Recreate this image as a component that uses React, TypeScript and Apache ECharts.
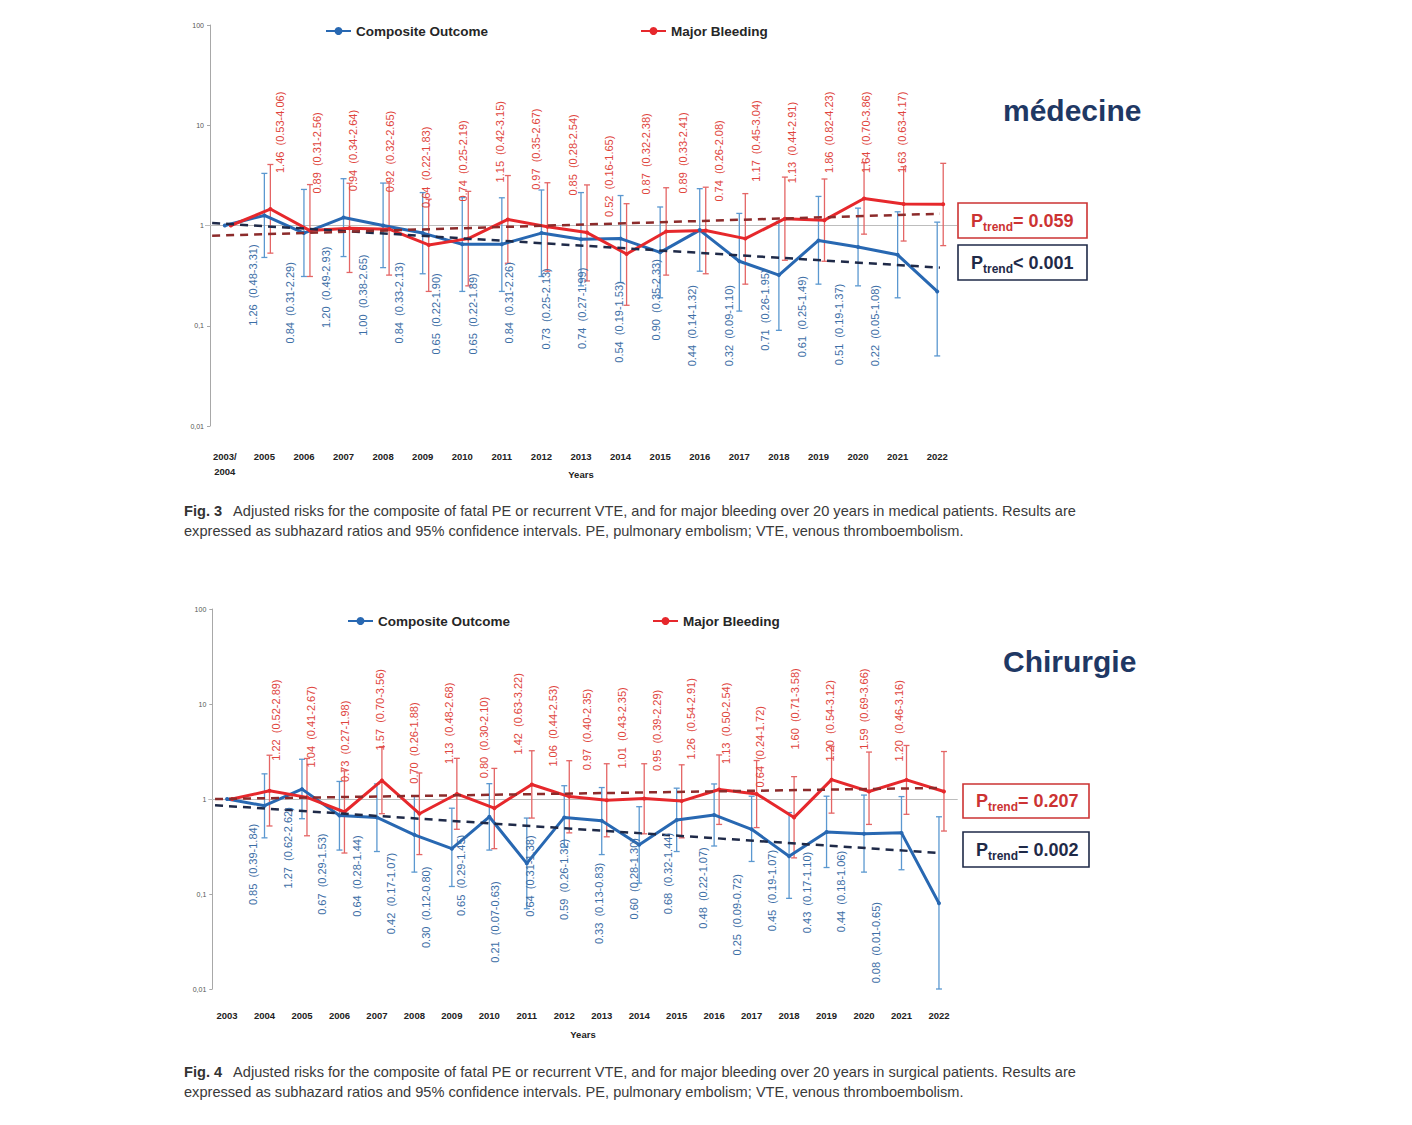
import React, { useEffect, useRef } from "react";
import * as echarts from "echarts";

// ---------- DATA ----------
const medYears = ["2003/\n2004", "2005", "2006", "2007", "2008", "2009", "2010", "2011", "2012", "2013", "2014", "2015", "2016", "2017", "2018", "2019", "2020", "2021", "2022"];
const surgYears = ["2003", "2004", "2005", "2006", "2007", "2008", "2009", "2010", "2011", "2012", "2013", "2014", "2015", "2016", "2017", "2018", "2019", "2020", "2021", "2022"];

const medComposite = [1.0, 1.26, 0.84, 1.2, 1.0, 0.84, 0.65, 0.65, 0.84, 0.73, 0.74, 0.54, 0.9, 0.44, 0.32, 0.71, 0.61, 0.51, 0.22];
const medCompositeLow = [null, 0.48, 0.31, 0.49, 0.38, 0.33, 0.22, 0.22, 0.31, 0.25, 0.27, 0.19, 0.35, 0.14, 0.09, 0.26, 0.25, 0.19, 0.05];
const medCompositeHigh = [null, 3.31, 2.29, 2.93, 2.65, 2.13, 1.9, 1.89, 2.26, 2.13, 1.99, 1.53, 2.33, 1.32, 1.1, 1.95, 1.49, 1.37, 1.08];
const medBleeding = [1.0, 1.46, 0.89, 0.94, 0.92, 0.64, 0.74, 1.15, 0.97, 0.85, 0.52, 0.87, 0.89, 0.74, 1.17, 1.13, 1.86, 1.64, 1.63];
const medBleedingLow = [null, 0.53, 0.31, 0.34, 0.32, 0.22, 0.25, 0.42, 0.35, 0.28, 0.16, 0.32, 0.33, 0.26, 0.45, 0.44, 0.82, 0.7, 0.63];
const medBleedingHigh = [null, 4.06, 2.56, 2.64, 2.65, 1.83, 2.19, 3.15, 2.67, 2.54, 1.65, 2.38, 2.41, 2.08, 3.04, 2.91, 4.23, 3.86, 4.17];

const surgComposite = [1.0, 0.85, 1.27, 0.67, 0.64, 0.42, 0.3, 0.65, 0.21, 0.64, 0.59, 0.33, 0.6, 0.68, 0.48, 0.25, 0.45, 0.43, 0.44, 0.08];
const surgCompositeLow = [null, 0.39, 0.62, 0.29, 0.28, 0.17, 0.12, 0.29, 0.07, 0.31, 0.26, 0.13, 0.28, 0.32, 0.22, 0.09, 0.19, 0.17, 0.18, 0.01];
const surgCompositeHigh = [null, 1.84, 2.62, 1.53, 1.44, 1.07, 0.8, 1.45, 0.63, 1.38, 1.32, 0.83, 1.3, 1.44, 1.07, 0.72, 1.07, 1.1, 1.06, 0.65];
const surgBleeding = [1.0, 1.22, 1.04, 0.73, 1.57, 0.7, 1.13, 0.8, 1.42, 1.06, 0.97, 1.01, 0.95, 1.26, 1.13, 0.64, 1.6, 1.2, 1.59, 1.2];
const surgBleedingLow = [null, 0.52, 0.41, 0.27, 0.7, 0.26, 0.48, 0.3, 0.63, 0.44, 0.4, 0.43, 0.39, 0.54, 0.5, 0.24, 0.71, 0.54, 0.69, 0.46];
const surgBleedingHigh = [null, 2.89, 2.67, 1.98, 3.56, 1.88, 2.68, 2.1, 3.22, 2.53, 2.35, 2.35, 2.29, 2.91, 2.54, 1.72, 3.58, 3.12, 3.66, 3.16];

// trend lines: [category position, value]
const medTrendComposite = [[-0.32, 1.06], [18.07, 0.38]];
const medTrendBleeding = [[-0.32, 0.79], [18.07, 1.31]];
const surgTrendComposite = [[-0.32, 0.86], [19.03, 0.27]];
const surgTrendBleeding = [[-0.32, 1.0], [19.1, 1.31]];

const medPTrend = ["= 0.059", "< 0.001"];
const surgPTrend = ["= 0.207", "= 0.002"];

const seriesNames = ["Composite Outcome", "Major Bleeding"];

// ---------- STYLE ----------
const FONT = '"Liberation Sans", Arial, sans-serif';
const BLUE = "#2868b2";
const BLUE_BAR = "#5b98d0";
const BLUE_TEXT = "#3c6ea6";
const RED = "#e6282c";
const RED_BAR = "#e46565";
const RED_TEXT = "#e0453d";
const NAVY = "#1f2a48";
const DARK_RED = "#8c2b2b";
const TITLE_NAVY = "#1f3864";

const LAYOUT = [
  {
    gridLeft: 205, gridTop: 25, gridWidth: 752, gridHeight: 401, band: 39.58, redShift: 6,
    labelStart: 216.4, labelStep: 36.6, redLabelDx: 27,
    blueDy: 29, blueCap: 285, redDy: 37, redCap: 173,
    axisOffset: -5, labelMargin: 23, nameGap: 43,
  },
  {
    gridLeft: 208.3, gridTop: 609, gridWidth: 749.4, gridHeight: 380, band: 37.47, redShift: 5,
    labelStart: 218.4, labelStep: 34.6, redLabelDx: 23,
    blueDy: 18, blueCap: 902, redDy: 30, redCap: 0,
    axisOffset: -4, labelMargin: 19, nameGap: 40,
  },
];

const fmt = (v: number) => v.toFixed(2);

function errorBar(color: string) {
  return (params: any, api: any) => {
    const x = api.value(0);
    const lo = api.coord([x, api.value(1)]);
    const hi = api.coord([x, api.value(2)]);
    const cx = lo[0];
    const cap = 3;
    const st = { stroke: color, lineWidth: 1.3 };
    return {
      type: "group",
      children: [
        { type: "line", shape: { x1: cx, y1: lo[1], x2: cx, y2: hi[1] }, style: st },
        { type: "line", shape: { x1: cx - cap, y1: lo[1], x2: cx + cap, y2: lo[1] }, style: st },
        { type: "line", shape: { x1: cx - cap, y1: hi[1], x2: cx + cap, y2: hi[1] }, style: st },
      ],
    };
  };
}

function labelRenderer(color: string, below: boolean, dx: number, dy: number, cap: number) {
  return (params: any, api: any) => {
    const p = api.coord([api.value(0), api.value(1)]);
    const text = `${fmt(api.value(1))}  (${fmt(api.value(2))}-${fmt(api.value(3))})`;
    const y = below ? Math.min(p[1] + dy, cap) : Math.max(p[1] - dy, cap);
    return {
      type: "text",
      x: p[0] + dx,
      y,
      rotation: Math.PI / 2,
      style: {
        text,
        fill: color,
        font: `11px ${FONT}`,
        align: below ? "right" : "left",
        verticalAlign: "middle",
      },
    };
  };
}

function buildPanel(
  pi: number,
  years: string[],
  comp: number[], compLo: (number | null)[], compHi: (number | null)[],
  bleed: number[], bleedLo: (number | null)[], bleedHi: (number | null)[],
  trendC: number[][], trendB: number[][]
) {
  const L = LAYOUT[pi];
  const n = years.length;
  const xb = pi * 4;
  const shift = L.redShift / L.band;
  const labelMin = (L.gridLeft - L.labelStart) / L.labelStep;
  const labelMax = labelMin + L.gridWidth / L.labelStep;

  const grid = { left: L.gridLeft, top: L.gridTop, width: L.gridWidth, height: L.gridHeight };
  const xAxes = [
    {
      type: "category", gridIndex: pi, data: years, boundaryGap: true,
      axisLine: { show: false }, axisTick: { show: false },
      axisLabel: { margin: L.labelMargin, fontSize: 9.5, fontWeight: "bold", color: "#222", lineHeight: 15, fontFamily: FONT },
      name: "Years", nameLocation: "middle", nameGap: L.nameGap, nameMoveOverlap: false,
      nameTextStyle: { fontSize: 9.5, fontWeight: "bold", color: "#222", fontFamily: FONT },
    },
    { type: "value", gridIndex: pi, show: false, min: -0.5, max: n - 0.5 },
    { type: "value", gridIndex: pi, show: false, min: -0.5 - shift, max: n - 0.5 - shift },
    { type: "value", gridIndex: pi, show: false, min: labelMin, max: labelMax },
  ];
  const yAxis = {
    type: "log", logBase: 10, gridIndex: pi, min: 0.01, max: 100, offset: L.axisOffset,
    axisLine: { show: true, onZero: false, lineStyle: { color: "#a8a8a8", width: 1 } },
    axisTick: { show: true, length: 3, lineStyle: { color: "#a8a8a8" } },
    splitLine: { show: false },
    axisLabel: {
      fontSize: 7, color: "#555", fontFamily: FONT, margin: 6,
      formatter: (v: number) => String(Number(v.toPrecision(3))).replace(".", ","),
    },
  };

  const barData = (lo: (number | null)[], hi: (number | null)[]) =>
    lo.map((l, i) => (l == null ? null : [i, l, hi[i]])).filter((d) => d) as number[][];
  const labelData = (v: number[], lo: (number | null)[], hi: (number | null)[]) =>
    v.map((val, i) => (lo[i] == null ? null : [i, val, lo[i], hi[i]])).filter((d) => d) as number[][];

  const series: any[] = [
    {
      type: "custom", name: "ciC" + pi, xAxisIndex: xb + 1, yAxisIndex: pi, z: 2,
      renderItem: errorBar(BLUE_BAR), data: barData(compLo, compHi), encode: { x: 0, y: [1, 2] }, silent: true,
    },
    {
      type: "custom", name: "ciB" + pi, xAxisIndex: xb + 2, yAxisIndex: pi, z: 2,
      renderItem: errorBar(RED_BAR), data: barData(bleedLo, bleedHi), encode: { x: 0, y: [1, 2] }, silent: true,
    },
    {
      type: "line", name: seriesNames[0], xAxisIndex: xb + 1, yAxisIndex: pi, z: 3,
      data: comp.map((v, i) => [i, v]),
      symbol: "circle", symbolSize: 4, showSymbol: true,
      itemStyle: { color: BLUE }, lineStyle: { color: BLUE, width: 3 },
      markLine: {
        silent: true, symbol: "none", label: { show: false }, z: 1,
        lineStyle: { color: "#bdbdbd", width: 1, type: "solid" },
        data: [{ yAxis: 1 }],
      },
    },
    {
      type: "line", name: seriesNames[1], xAxisIndex: xb + 2, yAxisIndex: pi, z: 3,
      data: bleed.map((v, i) => [i, v]),
      symbol: "circle", symbolSize: 4, showSymbol: true,
      itemStyle: { color: RED }, lineStyle: { color: RED, width: 3 },
    },
    {
      type: "line", name: "trendC" + pi, xAxisIndex: xb + 1, yAxisIndex: pi, z: 4,
      data: trendC, symbol: "none", lineStyle: { color: NAVY, width: 2.5, type: [8, 6] }, silent: true,
    },
    {
      type: "line", name: "trendB" + pi, xAxisIndex: xb + 1, yAxisIndex: pi, z: 4,
      data: trendB, symbol: "none", lineStyle: { color: DARK_RED, width: 2.5, type: [8, 6] }, silent: true,
    },
    {
      type: "custom", name: "lblC" + pi, xAxisIndex: xb + 3, yAxisIndex: pi, z: 5, silent: true,
      renderItem: labelRenderer(BLUE_TEXT, true, 0, L.blueDy, L.blueCap),
      data: labelData(comp, compLo, compHi), encode: { x: 0, y: 1 },
    },
    {
      type: "custom", name: "lblB" + pi, xAxisIndex: xb + 3, yAxisIndex: pi, z: 5, silent: true,
      renderItem: labelRenderer(RED_TEXT, false, L.redLabelDx, L.redDy, L.redCap),
      data: labelData(bleed, bleedLo, bleedHi), encode: { x: 0, y: 1 },
    },
  ];
  return { grid, xAxes, yAxis, series };
}

function pBox(x: number, y: number, w: number, h: number, color: string, value: string) {
  return [
    { type: "rect", shape: { x, y, width: w, height: h }, style: { fill: "#fff", stroke: color, lineWidth: 1.6 }, z: 10 },
    {
      type: "text", x: x + 13, y: y + h / 2, z: 11,
      style: {
        text: `{p|P}{s|trend}{p|${value}}`,
        verticalAlign: "middle", align: "left",
        rich: {
          p: { fontSize: 18, fontWeight: "bold", fontFamily: FONT, fill: color, color, lineHeight: 24, verticalAlign: "middle" },
          s: { fontSize: 12, fontWeight: "bold", fontFamily: FONT, fill: color, color, verticalAlign: "bottom" },
        },
      },
    },
  ];
}

function caption(y: number, fig: string, line1: string, line2: string) {
  return [
    {
      type: "text", x: 184, y, z: 11,
      style: {
        text: `{b|${fig}}{n|${line1}}`, verticalAlign: "middle", align: "left",
        rich: {
          b: { fontSize: 14.6, fontWeight: "bold", fontFamily: FONT, fill: "#333", color: "#333", padding: [0, 11, 0, 0] },
          n: { fontSize: 14.6, fontFamily: FONT, fill: "#3a3a3a", color: "#3a3a3a" },
        },
      },
    },
    {
      type: "text", x: 184, y: y + 20, z: 11,
      style: { text: line2, verticalAlign: "middle", align: "left", font: `14.6px ${FONT}`, fill: "#3a3a3a" },
    },
  ];
}

export default function App() {
  const ref = useRef<HTMLDivElement>(null);
  useEffect(() => {
    if (!ref.current) return;
    const chart = echarts.init(ref.current, undefined, { renderer: "svg" });
    const top = buildPanel(0, medYears, medComposite, medCompositeLow, medCompositeHigh, medBleeding, medBleedingLow, medBleedingHigh, medTrendComposite, medTrendBleeding);
    const bot = buildPanel(1, surgYears, surgComposite, surgCompositeLow, surgCompositeHigh, surgBleeding, surgBleedingLow, surgBleedingHigh, surgTrendComposite, surgTrendBleeding);
    const legendText = { fontSize: 13.5, fontWeight: "bold", color: "#262626", fontFamily: FONT };
    const legendBase = { orient: "horizontal", itemWidth: 25, itemHeight: 10, itemGap: 4, textStyle: legendText, selectedMode: false, padding: 0 };
    const option: any = {
      animation: false,
      backgroundColor: "#ffffff",
      legend: [
        { ...legendBase, data: [seriesNames[0]], left: 325, top: 24 },
        { ...legendBase, data: [seriesNames[1]], left: 640, top: 24 },
        { ...legendBase, data: [seriesNames[0]], left: 347, top: 614 },
        { ...legendBase, data: [seriesNames[1]], left: 652, top: 614 },
      ],
      grid: [top.grid, bot.grid],
      xAxis: [...top.xAxes, ...bot.xAxes],
      yAxis: [top.yAxis, bot.yAxis],
      series: [...top.series, ...bot.series],
      graphic: [
        { type: "text", x: 1003, y: 110, style: { text: "médecine", font: `bold 30px ${FONT}`, fill: TITLE_NAVY, verticalAlign: "middle" } },
        { type: "text", x: 1003, y: 661, style: { text: "Chirurgie", font: `bold 30px ${FONT}`, fill: TITLE_NAVY, verticalAlign: "middle" } },
        ...pBox(958, 203, 129, 35, "#cc3333", medPTrend[0]),
        ...pBox(958, 245, 129, 35, NAVY, medPTrend[1]),
        ...pBox(963, 784, 126, 34, "#cc3333", surgPTrend[0]),
        ...pBox(963, 832, 126, 35, NAVY, surgPTrend[1]),
        ...caption(511, "Fig. 3",
          "Adjusted risks for the composite of fatal PE or recurrent VTE, and for major bleeding over 20 years in medical patients. Results are",
          "expressed as subhazard ratios and 95% confidence intervals. PE, pulmonary embolism; VTE, venous thromboembolism."),
        ...caption(1072, "Fig. 4",
          "Adjusted risks for the composite of fatal PE or recurrent VTE, and for major bleeding over 20 years in surgical patients. Results are",
          "expressed as subhazard ratios and 95% confidence intervals. PE, pulmonary embolism; VTE, venous thromboembolism."),
      ],
    };
    chart.setOption(option);
    return () => chart.dispose();
  }, []);
  return (
    <div
      ref={ref}
      style={{ position: "absolute", left: 0, top: 0, width: 1412, height: 1125, background: "#fff" }}
    />
  );
}
